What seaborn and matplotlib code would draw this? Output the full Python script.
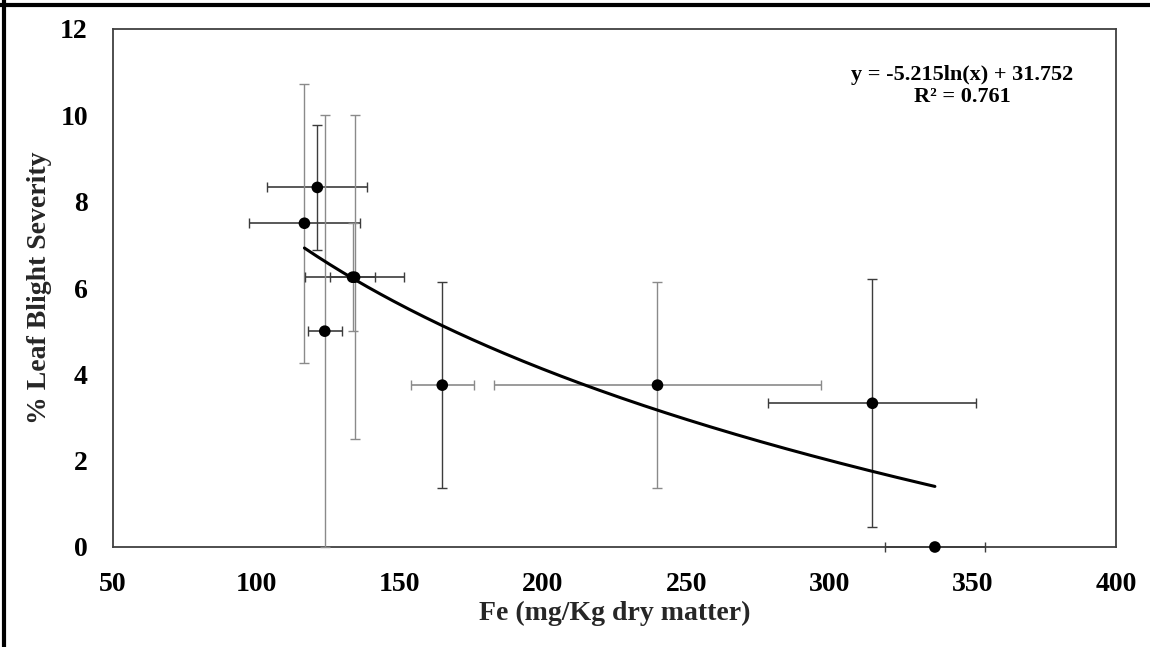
import numpy as np
import pandas as pd
import matplotlib
matplotlib.use("Agg")
import matplotlib.pyplot as plt
from matplotlib.lines import Line2D
import seaborn as sns

# Leaf Fe content (mg/kg dry matter) and blight severity (%), with spreads
fe = [121.3, 116.8, 133.6, 134.3, 123.9, 164.9, 240.0, 315.0, 336.8]
severity = [8.33, 7.5, 6.25, 6.25, 5.0, 3.75, 3.75, 3.33, 0.0]
fe_err = [17.5, 19.5, 7.8, 17.2, 6.0, 11.0, 57.0, 36.3, 17.5]
severity_err = [1.44, 3.23, 1.25, 3.75, 5.0, 2.38, 2.38, 2.87, 0.0]

# Logarithmic trend: y = a ln(x) + b
trend_a = -5.215
trend_b = 31.752
r_squared = 0.761

x_ticks = [50, 100, 150, 200, 250, 300, 350, 400]
y_ticks = [0, 2, 4, 6, 8, 10, 12]

# shade of the (vertical, horizontal) error bars for each point
DARK, GREY = "#3c3c3c", "#8a8a8a"
bar_shade = [(DARK, DARK), (GREY, DARK), (GREY, DARK), (GREY, DARK),
             (GREY, DARK), (DARK, GREY), (GREY, GREY), (DARK, DARK), (DARK, DARK)]

sns.set_theme(style="white")
plt.rcParams["font.family"] = ["Liberation Serif", "DejaVu Serif"]
plt.rcParams["font.weight"] = "bold"

df = pd.DataFrame({"fe": fe, "severity": severity,
                   "fe_err": fe_err, "severity_err": severity_err})

fig = plt.figure(figsize=(11.5, 6.47), dpi=100)
ax = fig.add_axes([113 / 1150, 1 - 547 / 647, 1003 / 1150, 518 / 647])

for i, row in df.iterrows():
    vcol, hcol = bar_shade[i]
    if row.severity_err > 0:
        ax.errorbar(row.fe, row.severity, yerr=row.severity_err, fmt="none",
                    ecolor=vcol, elinewidth=1.0, capsize=3.5, capthick=1.0,
                    zorder=3, clip_on=False)
    ax.errorbar(row.fe, row.severity, xerr=row.fe_err, fmt="none",
                ecolor=hcol, elinewidth=1.2, capsize=3.5, capthick=1.0,
                zorder=3, clip_on=False)

# trend curve evaluated from the stated coefficients over the data range
xs = np.linspace(min(fe), max(fe), 200)
trend = pd.DataFrame({"fe": xs, "severity": trend_a * np.log(xs) + trend_b})
sns.lineplot(data=trend, x="fe", y="severity", color="black", linewidth=2.2,
             ax=ax, zorder=4)

sns.scatterplot(data=df, x="fe", y="severity", color="black", s=70,
                edgecolor="none", ax=ax, zorder=5, clip_on=False)

ax.set_xlim(50, 400)
ax.set_ylim(0, 12)
ax.set_xticks(x_ticks)
ax.set_yticks(y_ticks)
ax.set_xticklabels([str(v) for v in x_ticks])
ax.set_yticklabels([str(v) for v in y_ticks])
ax.tick_params(axis="both", length=0, labelsize=20, colors="black")
ax.tick_params(axis="x", pad=18)
ax.tick_params(axis="y", pad=18)
for lab in ax.get_xticklabels() + ax.get_yticklabels():
    lab.set_fontweight("bold")

for side in ["left", "right", "top", "bottom"]:
    ax.spines[side].set_visible(True)
    ax.spines[side].set_color("#404040")
    ax.spines[side].set_linewidth(1.3)

ax.set_xlabel("Fe (mg/Kg dry matter)", fontsize=20, fontweight="bold",
              va="center", ha="center")
ax.set_ylabel("% Leaf Blight Severity", fontsize=20, fontweight="bold",
              va="center", ha="center")
ax.xaxis.set_label_coords(0.5005, (547 - 613) / 518)
ax.yaxis.set_label_coords((40 - 113) / 1003, 0.5)

ax.text((962 - 113) / 1003, (547 - 86) / 518,
        f"y = {trend_a}ln(x) + {trend_b}\nR\u00b2 = {r_squared}",
        transform=ax.transAxes, ha="center", va="center", fontsize=16,
        fontweight="bold", linespacing=1.1, color="black")

# frame edges along the top and left of the figure
fig.add_artist(Line2D([0, 1], [1 - 5 / 647, 1 - 5 / 647], color="black",
                      linewidth=3, transform=fig.transFigure))
fig.add_artist(Line2D([4 / 1150, 4 / 1150], [0, 1], color="black",
                      linewidth=3, transform=fig.transFigure))

fig.savefig("out.png", dpi=100)
